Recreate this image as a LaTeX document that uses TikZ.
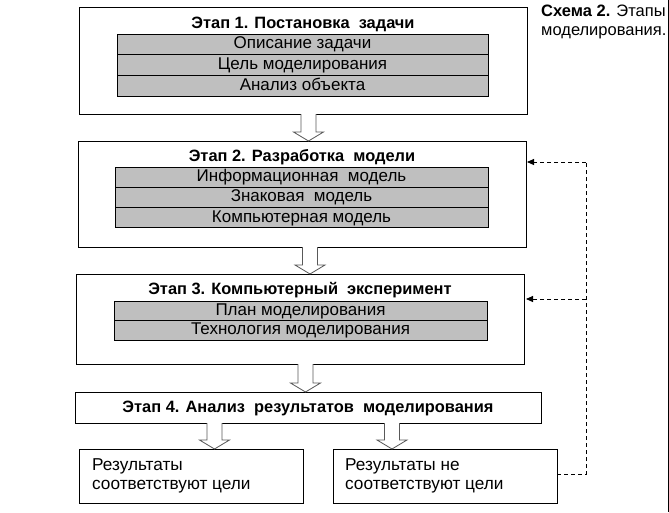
\documentclass[tikz,border=0pt]{standalone}
\usepackage{fontspec}
\setmainfont{Liberation Sans}
\usetikzlibrary{arrows.meta,calc}
\tikzset{
  stagebox/.style={draw=black, line width=0.9pt, fill=white, anchor=north west, inner sep=0pt, outer sep=0pt},
  graybar/.style={draw=black, line width=0.9pt, fill=gray!50, anchor=north west, inner sep=0pt, outer sep=0pt, text height=12pt, text depth=3.5pt, font=\fontsize{17}{19}\selectfont},
  stitle/.style={font=\fontsize{16.4}{18}\selectfont\bfseries, inner sep=0pt},
  resbox/.style={draw=black, line width=0.9pt, anchor=north west, inner sep=0pt, outer sep=0pt, minimum width=224pt, minimum height=54pt},
  restext/.style={font=\fontsize{17.2}{19.5}\selectfont, align=left, anchor=west, inner sep=0pt},
  barrow/.style={draw=black!65, line width=0.8pt, fill=white, line join=miter},
  fb/.style={draw=black, line width=0.9pt, dash pattern=on 4pt off 3pt, -{Triangle[length=7pt,width=6pt]}},
  fbl/.style={draw=black, line width=0.9pt, dash pattern=on 4pt off 3pt}
}
\newcommand\blockarr[3]{%
  \coordinate (ax) at (#3,0);
  \draw[barrow] ($(ax |- #1.south)+(-7.5pt,0pt)$) -- ($(ax |- #2.north)+(-7.5pt,9pt)$) -- ($(ax |- #2.north)+(-15pt,9pt)$) -- (ax |- #2.north) -- ($(ax |- #2.north)+(15pt,9pt)$) -- ($(ax |- #2.north)+(7.5pt,9pt)$) -- ($(ax |- #1.south)+(7.5pt,0pt)$);
}
\begin{document}
\begin{tikzpicture}[x=1pt,y=-1pt]
\useasboundingbox[fill=white] (0,0) rectangle (669,512);
% frame line at right
\draw[line width=0.9pt] (668,0) -- (668,512);

% Stage 1
\node[stagebox, minimum width=448pt, minimum height=107pt] (s1) at (79,7) {};
\node[stitle] (t1) at (303,24) {Этап 1. Постановка\ \ задачи};
\node[graybar, minimum width=371pt, minimum height=20.7pt] (s1a) at (117,34.0) {Описание задачи};
\node[graybar, minimum width=371pt, minimum height=20.7pt] (s1b) at (117,54.7) {Цель моделирования};
\node[graybar, minimum width=371pt, minimum height=20.7pt] (s1c) at (117,75.4) {Анализ объекта};

% Stage 2
\node[stagebox, minimum width=448pt, minimum height=106pt] (s2) at (78,141) {};
\node[stitle] (t2) at (302,157) {Этап 2. Разработка\ \ модели};
\node[graybar, minimum width=373pt, minimum height=20.3pt] (s2a) at (115,167.0) {Информационная\ \ модель};
\node[graybar, minimum width=373pt, minimum height=20.3pt] (s2b) at (115,187.3) {Знаковая\ \ модель};
\node[graybar, minimum width=373pt, minimum height=20.3pt] (s2c) at (115,207.6) {Компьютерная модель};

% Stage 3
\node[stagebox, minimum width=448pt, minimum height=90pt] (s3) at (76,274) {};
\node[stitle] (t3) at (300,290) {Этап 3. Компьютерный\ \ эксперимент};
\node[graybar, minimum width=373pt, minimum height=19.5pt] (s3a) at (114,301.0) {План моделирования};
\node[graybar, minimum width=373pt, minimum height=19.5pt] (s3b) at (114,320.5) {Технология моделирования};

% Stage 4
\node[stagebox, minimum width=466pt, minimum height=31pt] (s4) at (75,392) {};
\node[stitle] (t4) at (308,408) {Этап 4. Анализ\ \ результатов\ \ моделирования};

% Results
\node[resbox] (r1) at (79,449) {};
\node[restext] (r1t) at (92,476) {Результаты\\соответствуют цели};
\node[resbox] (r2) at (333,449) {};
\node[restext] (r2t) at (345,476) {Результаты не\\соответствуют цели};

% Block arrows
\blockarr{s1}{s2}{308.5}
\blockarr{s2}{s3}{310}
\blockarr{s3}{s4}{305.5}
\blockarr{s4}{r1}{214.5}
\blockarr{s4}{r2}{392}

% Feedback dashed lines
\coordinate (dc) at (586,474);
\coordinate (d2) at (586,162);
\coordinate (d3) at (586,299);
\draw[fbl] (r2.east |- dc) -- (dc) -- (d2);
\draw[fb] (d2) -- ([xshift=1pt]d2 -| s2.east);
\draw[fb] (d3) -- ([xshift=2pt]d3 -| s3.east);

% Caption
\node[anchor=north west, align=left, inner sep=0pt, font=\fontsize{16.5}{18.5}\selectfont] (cap) at (541,5) {\textbf{Схема 2.} Этапы\\моделирования.};
\end{tikzpicture}
\end{document}
